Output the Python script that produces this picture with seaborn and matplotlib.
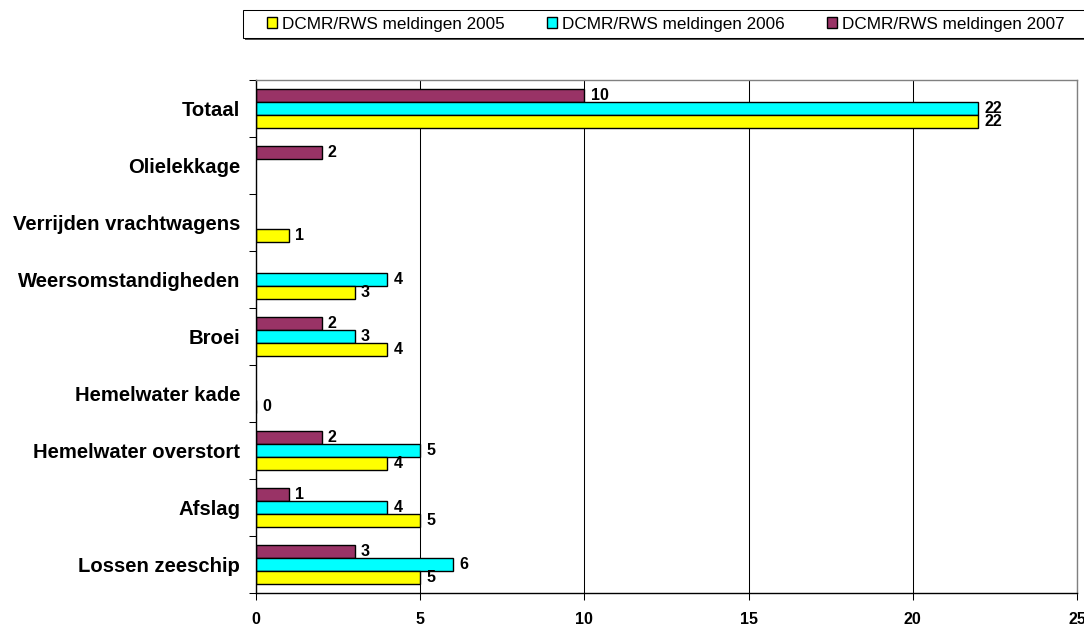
import matplotlib
matplotlib.use("Agg")
import matplotlib.pyplot as plt
from matplotlib.patches import Patch, Rectangle
from matplotlib.ticker import FixedLocator
import numpy as np
import pandas as pd
import seaborn as sns

# Categories, top to bottom
categories = [
    "Totaal",
    "Olielekkage",
    "Verrijden vrachtwagens",
    "Weersomstandigheden",
    "Broei",
    "Hemelwater kade",
    "Hemelwater overstort",
    "Afslag",
    "Lossen zeeschip",
]
# Number of reports per year (None = no report in that category)
meldingen_2005 = [22, None, 1, 3, 4, 0, 4, 5, 5]
meldingen_2006 = [22, None, None, 4, 3, None, 5, 4, 6]
meldingen_2007 = [10, 2, None, None, 2, None, 2, 1, 3]

series_labels = [
    "DCMR/RWS meldingen 2005",
    "DCMR/RWS meldingen 2006",
    "DCMR/RWS meldingen 2007",
]
series_colors = ["#FFFF00", "#00FFFF", "#993366"]
x_ticks = [0, 5, 10, 15, 20, 25]

rows = []
for label, values in zip(series_labels, [meldingen_2005, meldingen_2006, meldingen_2007]):
    for cat, v in zip(categories, values):
        if v is not None:
            rows.append({"categorie": cat, "reeks": label, "aantal": v})
df = pd.DataFrame(rows)

sns.set_style("white")
plt.rcParams["font.family"] = ["Liberation Sans", "DejaVu Sans"]
plt.rcParams["text.color"] = "black"
plt.rcParams["xtick.color"] = "black"
plt.rcParams["ytick.color"] = "black"
plt.rcParams["axes.labelcolor"] = "black"

W, H = 1084, 626
fig = plt.figure(figsize=(W / 100, H / 100), dpi=100)
ax = fig.add_axes([256 / W, 1 - 593 / H, (1077 - 256) / W, (593 - 80) / H])

palette = dict(zip(series_labels, series_colors))
sns.barplot(
    data=df, x="aantal", y="categorie", hue="reeks",
    order=categories, hue_order=series_labels[::-1],
    palette=palette, orient="h", width=0.67, saturation=1,
    edgecolor="black", linewidth=1, errorbar=None, legend=False, ax=ax,
)

for cont in ax.containers:
    ax.bar_label(cont, fmt="%g", padding=4.5, fontsize=11.5, fontweight="bold",
                 color="black")

ax.set_xlim(0, 25)
ax.set_ylim(len(categories) - 0.5, -0.5)
ax.set_xticks(x_ticks)
ax.set_xticklabels([str(t) for t in x_ticks], fontsize=11.5, fontweight="bold")
ax.set_xlabel("")
ax.set_ylabel("")
ax.tick_params(axis="x", direction="out", length=5, width=0.75, color="black",
               labelcolor="black", pad=8.5, bottom=True)
ax.tick_params(axis="y", which="major", length=0, pad=11.5, labelsize=14.6,
               labelcolor="black", left=True)
for lbl in ax.get_yticklabels():
    lbl.set_fontweight("bold")
ax.yaxis.set_minor_locator(FixedLocator(np.arange(-0.5, len(categories), 1.0)))
ax.tick_params(axis="y", which="minor", direction="out", length=5, width=0.75,
               color="black", left=True)

ax.xaxis.grid(True, color="black", linewidth=0.75)
ax.yaxis.grid(False)
ax.set_axisbelow(True)
for side in ["left", "bottom"]:
    ax.spines[side].set_color("black")
    ax.spines[side].set_linewidth(1)
for side in ["top", "right"]:
    ax.spines[side].set_color("#808080")
    ax.spines[side].set_linewidth(1)
    ax.spines[side].set_visible(True)

# Legend box across the top
fig.patches.append(Rectangle((245 / W, 1 - 40 / H), (1100 - 245) / W, 28 / H,
                             transform=fig.transFigure, facecolor="#505050",
                             edgecolor="none", zorder=0))
fig.patches.append(Rectangle((243 / W, 1 - 38 / H), (1100 - 243) / W, 28 / H,
                             transform=fig.transFigure, facecolor="white",
                             edgecolor="black", linewidth=0.75, zorder=1))
handles = [Patch(facecolor=c, edgecolor="black", linewidth=1) for c in series_colors]
fig.legend(handles, series_labels, ncol=3, loc="center left",
           bbox_to_anchor=(267 / W, 1 - 24 / H), frameon=False, fontsize=12.3,
           handlelength=0.6, handleheight=0.6, handletextpad=0.3,
           columnspacing=2.45, borderpad=0, borderaxespad=0)

fig.savefig("out.png", dpi=100)
